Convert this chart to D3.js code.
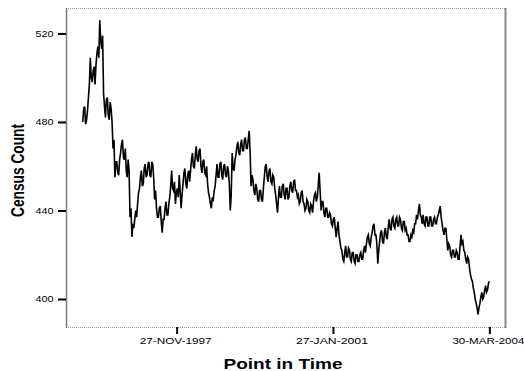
<!DOCTYPE html>
<html>
<head>
<meta charset="utf-8">
<script src="https://cdn.jsdelivr.net/npm/d3@7"></script>
<style>
  html, body { margin: 0; padding: 0; background: #fff; }
  svg { display: block; }
</style>
</head>
<body>
<svg id="chart" width="524" height="371"></svg>
<script>
// Census count, one reading per week from the first observation.
const firstDate = "02-JAN-1996";
const stepDays = 7;
const censusCounts = [
  480, 486, 487, 479, 481, 485, 491, 497, 509, 500, 498, 503, 505, 497, 506, 511, 514, 509, 526, 517,
  513, 519, 493, 487, 482, 490, 491, 483, 481, 489, 486, 480, 468, 472, 455, 462, 462, 457, 456, 463,
  466, 470, 472, 464, 463, 468, 458, 455, 463, 458, 437, 441, 428, 434, 432, 436, 440, 437, 443, 448,
  450, 455, 458, 451, 452, 459, 461, 455, 456, 461, 462, 456, 455, 462, 461, 455, 445, 449, 441, 437,
  437, 441, 442, 435, 430, 436, 436, 441, 444, 438, 438, 443, 446, 451, 458, 450, 449, 453, 443, 448,
  450, 446, 456, 449, 441, 447, 452, 457, 459, 452, 450, 456, 458, 453, 458, 463, 466, 460, 459, 465,
  469, 463, 462, 467, 468, 460, 457, 462, 463, 457, 456, 460, 452, 448, 446, 443, 441, 446, 445, 449,
  451, 456, 461, 455, 455, 461, 462, 456, 454, 460, 461, 456, 455, 460, 458, 452, 440, 447, 466, 459,
  458, 463, 465, 469, 471, 466, 465, 470, 472, 467, 467, 472, 473, 468, 468, 472, 476, 466, 451, 456,
  454, 449, 447, 452, 450, 445, 444, 449, 449, 445, 444, 450, 455, 460, 461, 455, 453, 458, 459, 453,
  452, 456, 455, 450, 447, 443, 439, 446, 451, 446, 446, 451, 452, 447, 445, 450, 450, 445, 446, 451,
  453, 449, 448, 453, 454, 449, 449, 446, 447, 443, 444, 448, 449, 444, 443, 440, 441, 445, 444, 440,
  439, 443, 442, 439, 444, 447, 448, 444, 446, 451, 457, 449, 440, 444, 444, 439, 437, 441, 441, 437,
  437, 439, 438, 434, 433, 436, 437, 432, 428, 432, 435, 429, 426, 423, 422, 418, 417, 421, 424, 419,
  419, 423, 422, 418, 417, 421, 421, 417, 416, 420, 420, 417, 417, 420, 421, 418, 418, 422, 424, 421,
  425, 428, 429, 425, 424, 428, 430, 433, 434, 429, 429, 425, 416, 422, 426, 430, 431, 426, 425, 430,
  432, 428, 427, 432, 436, 432, 431, 436, 437, 433, 432, 436, 437, 433, 433, 437, 436, 432, 431, 435,
  435, 431, 432, 429, 429, 426, 426, 429, 428, 431, 430, 434, 434, 438, 436, 440, 443, 438, 437, 434,
  438, 434, 433, 437, 437, 433, 433, 437, 437, 433, 433, 436, 437, 434, 434, 437, 438, 440, 442, 437,
  434, 431, 429, 432, 432, 427, 422, 425, 424, 420, 419, 422, 422, 419, 419, 422, 421, 418, 418, 424,
  429, 425, 426, 422, 421, 418, 416, 419, 418, 414, 411, 409, 408, 405, 403, 400, 398, 396, 393, 396,
  398, 401, 403, 400, 401, 404, 406, 403, 404, 407, 408
];
const yTickValues = [400, 440, 480, 520];
const xTickLabels = ["27-NOV-1997", "27-JAN-2001", "30-MAR-2004"];
const xDomainLabels = ["31-AUG-1995", "31-JUL-2004"];
const yDomain = [387.35, 531.5];
const xTitle = "Point in Time";
const yTitle = "Census Count";

const parseDate = d3.utcParse("%d-%b-%Y");
const formatDate = d => d3.utcFormat("%d-%b-%Y")(d).toUpperCase();
const start = parseDate(firstDate);
const series = censusCounts.map((v, i) => ({ date: d3.utcDay.offset(start, i * stepDays), value: v }));

const box = { left: 66, right: 506, top: 8, bottom: 327 };
const FONT = "'Liberation Sans', Arial, sans-serif";

const x = d3.scaleUtc().domain(xDomainLabels.map(parseDate)).range([box.left, box.right]);
const y = d3.scaleLinear().domain(yDomain).range([box.bottom, box.top]);

const svg = d3.select("#chart");

// Frame: dotted top and bottom edges, solid grey right edge
svg.append("line").attr("x1", box.left).attr("x2", box.right).attr("y1", box.top + 0.5).attr("y2", box.top + 0.5)
  .attr("stroke", "#9c9c80").attr("stroke-width", 1).attr("stroke-dasharray", "1,1");
svg.append("line").attr("x1", box.left).attr("x2", box.right).attr("y1", box.bottom + 0.5).attr("y2", box.bottom + 0.5)
  .attr("stroke", "#9c9c80").attr("stroke-width", 1).attr("stroke-dasharray", "1,1");
svg.append("line").attr("x1", box.right - 0.5).attr("x2", box.right - 0.5).attr("y1", box.top).attr("y2", box.bottom + 1)
  .attr("stroke", "#86868c").attr("stroke-width", 2);

// Y axis
const yAxis = svg.append("g").attr("transform", `translate(${box.left},0)`)
  .call(d3.axisLeft(y).tickValues(yTickValues).tickSizeInner(8).tickSizeOuter(0).tickPadding(4.5));
yAxis.select(".domain").attr("stroke", "#7c7c88").attr("stroke-width", 1.5)
  .attr("d", `M0.5,${box.top}V${box.bottom + 1}`);
yAxis.selectAll(".tick line").attr("stroke", "#000").attr("stroke-width", 2);
yAxis.selectAll(".tick text")
  .attr("font-family", FONT).attr("font-size", 9).attr("fill", "#000")
  .attr("textLength", 18).attr("lengthAdjust", "spacingAndGlyphs");

// X axis
const xAxis = svg.append("g").attr("transform", `translate(0,${box.bottom})`)
  .call(d3.axisBottom(x).tickValues(xTickLabels.map(parseDate)).tickFormat(formatDate)
    .tickSizeInner(7).tickSizeOuter(0).tickPadding(4));
xAxis.select(".domain").remove();
xAxis.selectAll(".tick line").attr("stroke", "#000").attr("stroke-width", 2);
xAxis.selectAll(".tick text")
  .attr("font-family", FONT).attr("font-size", 9).attr("fill", "#000")
  .attr("dx", -1.5)
  .attr("textLength", 72).attr("lengthAdjust", "spacingAndGlyphs");

// Series line
svg.append("path").datum(series)
  .attr("fill", "none").attr("stroke", "#000").attr("stroke-width", 1.6)
  .attr("stroke-linejoin", "miter")
  .attr("d", d3.line().x(d => x(d.date)).y(d => y(d.value)));

// Axis titles
svg.append("text").text(xTitle)
  .attr("x", 283).attr("y", 369).attr("text-anchor", "middle")
  .attr("font-family", FONT).attr("font-weight", "bold").attr("font-size", 15.5)
  .attr("textLength", 119).attr("lengthAdjust", "spacingAndGlyphs");
svg.append("text").text(yTitle)
  .attr("transform", "translate(24,170.5) rotate(-90)").attr("text-anchor", "middle")
  .attr("font-family", FONT).attr("font-weight", "bold").attr("font-size", 19)
  .attr("textLength", 93).attr("lengthAdjust", "spacingAndGlyphs");
</script>
</body>
</html>
